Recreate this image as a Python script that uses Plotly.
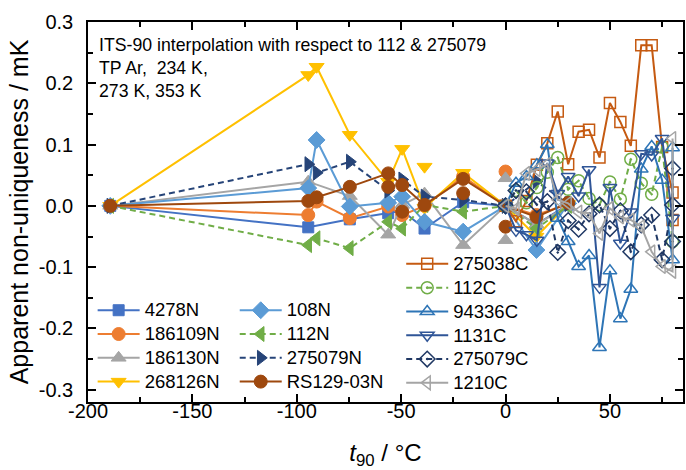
import plotly.graph_objects as go

# ---------------- data ----------------
N_X = [-189.3442, -94.5, -90.5, -74.6, -56.2, -49.5, -38.8, -20.3, 0.01, 14.8, 30.0]
n4278 = [0, -0.035, None, -0.022, -0.012, -0.008, -0.037, 0.006, 0, -0.030, 0.002]
n186109 = [0, -0.015, 0.007, -0.020, -0.001, -0.015, 0.000, 0.048, 0, -0.015, 0.003]
n186130 = [0, 0.0395, None, 0.016, -0.047, 0.0015, 0.020, -0.064, 0, -0.030, 0.000]
n268126 = [0, 0.2136, 0.227, 0.116, 0.0395, 0.093, -0.003, 0.054, 0, -0.050, 0.003]
n108 = [0, 0.029, 0.1075, -0.001, 0.005, 0.015, -0.026, -0.042, 0, -0.072, 0.004]
n112 = [0, -0.064, -0.053, -0.069, -0.026, -0.037, 0.0015, -0.0095, 0, -0.037, 0.000]
n275079 = [0, 0.068, 0.054, 0.072, 0.025, 0.043, 0.015, 0.0096, 0, 0.040, 0.003]
nRS129 = [0, 0.008, 0.014, 0.031, 0.053, 0.034, 0.0015, 0.044, 0, -0.018, 0.005]

# isolated extra readings (markers only)
iso186109_x = [0.0]
iso186109_y = [0.056]
iso186130_x = [0.0, 0.0]
iso186130_y = [0.045, -0.056]
isoRS129_x = [-56.2, -49.5, -20.3, 0.0]
isoRS129_y = [0.031, -0.0095, 0.0206, -0.034]
iso268126_x = [-38.8]
iso268126_y = [0.064]

C_X = [0, 5, 10, 15, 20, 25, 30, 35, 40, 45, 50, 55, 60, 65, 70, 75, 80]
c275038 = [0, -0.025, 0.008, 0.067, 0.102, 0.154, 0.068, 0.121, 0.124, 0.079, 0.168, 0.137, 0.098, 0.262, 0.262, 0.096, 0.022]
c112 = [0, 0.025, 0.005, 0.030, 0.055, 0.079, 0.027, 0.041, 0.012, 0.002, 0.039, 0.011, 0.076, 0.037, 0.019, 0.096, -0.058]
c94336 = [0, 0.037, 0.048, 0.067, 0.100, -0.020, -0.058, -0.099, -0.081, -0.231, -0.106, -0.184, -0.136, 0.060, 0.097, 0.042, -0.088]
c1131 = [0, -0.040, -0.047, -0.056, 0.070, 0.020, 0.048, 0.016, 0.059, -0.133, 0.030, -0.061, -0.010, 0.085, 0.083, 0.110, -0.020]
c275079 = [0, 0.025, 0.023, 0.002, 0.007, -0.076, -0.024, -0.038, -0.013, 0.0015, -0.037, -0.008, -0.075, -0.031, -0.015, -0.088, 0.0015]
c1210 = [0, -0.005, 0.053, 0.059, 0.068, 0.010, 0.004, -0.010, -0.012, -0.045, -0.004, -0.018, -0.023, -0.034, -0.075, -0.099, -0.107]

# repeat readings at the last point
end275038_y = [-0.023]
end94336_y = [0.095]
end275079_y = [-0.058, 0.061]
end1210_y = [0.110]

X_TICKS = [-200, -150, -100, -50, 0, 50]
Y_TICKS = [-0.3, -0.2, -0.1, 0.0, 0.1, 0.2, 0.3]

FONT = "Liberation Sans, Arial, sans-serif"

fig = go.Figure()

def lab(name):
    return '<span style="font-size:18.5px">%s</span>' % name

def add(name, x, y, color, symbol, dash="solid", legend="legend", size=11, open_=False):
    fig.add_trace(go.Scatter(
        x=x, y=y, name=lab(name), mode="lines+markers", connectgaps=True,
        line=dict(color=color, width=2, dash=dash),
        marker=dict(symbol=symbol, size=size, color=color,
                    line=dict(color=color, width=1.5 if open_ else 1)),
        legend=legend,
    ))

def iso(x, y, color, symbol, size=11):
    fig.add_trace(go.Scatter(x=x, y=y, mode="markers", showlegend=False,
                             marker=dict(symbol=symbol, size=size, color=color,
                                         line=dict(color=color, width=1))))

DASH = "6px,4px"

# N series
add("4278N", N_X, n4278, "#4472C4", "square", legend="legend", size=11)
add("186109N", N_X, n186109, "#ED7D31", "circle", legend="legend", size=13)
add("186130N", N_X, n186130, "#A5A5A5", "triangle-up", legend="legend", size=13)
add("268126N", N_X, n268126, "#FFC000", "triangle-down", legend="legend", size=13)
add("108N", N_X, n108, "#5B9BD5", "diamond", legend="legend2", size=13)
add("112N", N_X, n112, "#70AD47", "triangle-left", dash=DASH, legend="legend2", size=13)
add("275079N", N_X, n275079, "#264478", "triangle-right", dash=DASH, legend="legend2", size=13)
add("RS129-03N", N_X, nRS129, "#9E480E", "circle", legend="legend2", size=13)

iso(iso186109_x, iso186109_y, "#ED7D31", "circle", 13)
iso(iso186130_x, iso186130_y, "#A5A5A5", "triangle-up", 13)
iso(isoRS129_x, isoRS129_y, "#9E480E", "circle", 13)
iso(iso268126_x, iso268126_y, "#FFC000", "triangle-down", 13)

# C series
add("275038C", C_X + [80], c275038 + end275038_y, "#C55A11", "square-open", legend="legend3", size=11, open_=True)
add("112C", C_X, c112, "#70AD47", "circle-open-dot", dash=DASH, legend="legend3", size=12, open_=True)
add("94336C", C_X + [80], c94336 + end94336_y, "#2E75B6", "triangle-up-open", legend="legend3", size=12, open_=True)
add("1131C", C_X, c1131, "#2F5597", "triangle-down-open", legend="legend3", size=12, open_=True)
add("275079C", C_X + [80, 80], c275079 + end275079_y, "#203864", "diamond-open-dot", dash=DASH, legend="legend3", size=12, open_=True)
add("1210C", C_X + [80], c1210 + end1210_y, "#A5A5A5", "triangle-left-open", legend="legend3", size=12, open_=True)

leg_common = dict(bgcolor="rgba(0,0,0,0)", font=dict(family=FONT, size=16, color="black"),
                  xanchor="left", yanchor="top", itemwidth=42, tracegroupgap=0,
                  borderwidth=0)

fig.update_layout(
    width=686, height=470,
    margin=dict(l=88, r=3, t=22, b=68, autoexpand=False),
    paper_bgcolor="white", plot_bgcolor="white",
    font=dict(family=FONT, size=20, color="black"),
    legend=dict(x=0.0078, y=0.286, **leg_common),
    legend2=dict(x=0.2466, y=0.286, **leg_common),
    legend3=dict(x=0.5264, y=0.408, **leg_common),
    xaxis=dict(
        range=[-200, 85], tickvals=X_TICKS, ticktext=[str(v) for v in X_TICKS],
        showline=True, linecolor="black", linewidth=1.5, mirror="allticks",
        ticks="inside", ticklen=8, tickwidth=1.5, tickcolor="black",
        minor=dict(dtick=25, tick0=0, ticks="inside", ticklen=5, tickwidth=1.5, tickcolor="black"),
        showgrid=False, zeroline=False, automargin=False,
        tickfont=dict(family=FONT, size=20),
        ticklabelstandoff=-10,
        title=dict(text="<i>t</i><sub>90</sub> / °C", font=dict(family=FONT, size=24), standoff=23),
    ),
    yaxis=dict(
        range=[-0.32, 0.3], tickvals=Y_TICKS, ticktext=["%.1f" % v for v in Y_TICKS],
        showline=True, linecolor="black", linewidth=1.5, mirror="allticks",
        ticks="inside", ticklen=8, tickwidth=1.5, tickcolor="black",
        minor=dict(dtick=0.05, tick0=0, ticks="inside", ticklen=5, tickwidth=1.5, tickcolor="black"),
        showgrid=False, zeroline=False, automargin=False,
        tickfont=dict(family=FONT, size=20),
        ticklabelstandoff=9,
        title=dict(text="Apparent non-uniqueness / mK", font=dict(family=FONT, size=25), standoff=3),
    ),
    annotations=[dict(
        xref="paper", yref="paper", x=(97 - 88) / 595, y=1 - (33 - 22) / 380,
        xanchor="left", yanchor="top", align="left", showarrow=False,
        text="ITS-90 interpolation with respect to 112 &amp; 275079<br>TP Ar,  234 K,<br>273 K, 353 K",
        font=dict(family=FONT, size=17.7, color="black"),
    )],
)

fig.write_html("out.html", config={"displayModeBar": False},
               post_script="document.body.style.margin='0px';")
